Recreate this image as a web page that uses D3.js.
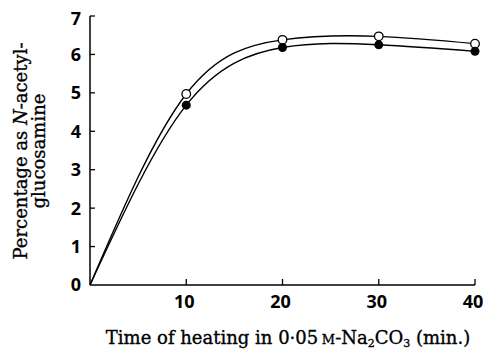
<!DOCTYPE html>
<html>
<head>
<meta charset="utf-8">
<script src="https://cdn.jsdelivr.net/npm/d3@7"></script>
<style>
  body { margin: 0; background: #fff; }
  .tick-label { font-family: "Open Sans", sans-serif; font-weight: 700; font-size: 18px; }
  .title { font-family: "DejaVu Serif", serif; font-size: 18px; stroke: #000; stroke-width: 0.35px; }
</style>
</head>
<body>
<svg id="chart" width="484" height="353"></svg>
<script>
// Width and height of the picture
const w = 484;
const h = 353;

// data
const times = [0, 10, 20, 30, 40];
const openValues = [0, 4.97, 6.38, 6.47, 6.28];
const filledValues = [0, 4.68, 6.18, 6.25, 6.08];
const xTicks = [10, 20, 30, 40];
const yTicks = [0, 1, 2, 3, 4, 5, 6, 7];

const svg = d3.select("#chart");

// scales, origin sits at about (90, 285)
const x = d3.scaleLinear().domain([0, 40]).range([90, 475]);
const y = d3.scaleLinear().domain([0, 7]).range([285, 16]);

// axis lines
svg.append("line")
  .attr("x1", x(0)).attr("x2", x(0))
  .attr("y1", y(0)).attr("y2", y(7))
  .attr("stroke", "#000").attr("stroke-width", 1.5);
svg.append("line")
  .attr("x1", x(0)).attr("x2", x(40))
  .attr("y1", y(0)).attr("y2", y(0))
  .attr("stroke", "#000").attr("stroke-width", 1.5);

// y ticks point inward
svg.selectAll(".ytick")
  .data(yTicks.filter(d => d > 0))
  .enter()
  .append("line")
  .attr("x1", x(0)).attr("x2", x(0) + 5)
  .attr("y1", d => y(d)).attr("y2", d => y(d))
  .attr("stroke", "#000").attr("stroke-width", 1.3);

svg.selectAll(".ylab")
  .data(yTicks)
  .enter()
  .append("text")
  .attr("class", "tick-label")
  .attr("x", 81)
  .attr("y", d => y(d) + (d === 7 ? 3 : 0))
  .attr("dy", "0.36em")
  .attr("text-anchor", "end")
  .text(d => d);

// x ticks point up
svg.selectAll(".xtick")
  .data(xTicks)
  .enter()
  .append("line")
  .attr("x1", d => x(d)).attr("x2", d => x(d))
  .attr("y1", y(0)).attr("y2", y(0) - 6)
  .attr("stroke", "#000").attr("stroke-width", 1.3);

svg.selectAll(".xlab")
  .data(xTicks)
  .enter()
  .append("text")
  .attr("class", "tick-label")
  .attr("x", d => x(d) - 2)
  .attr("y", 308)
  .attr("text-anchor", "middle")
  .text(d => d);

// smooth curves through the points
const line = d3.line()
  .x(d => x(d[0]))
  .y(d => y(d[1]))
  .curve(d3.curveNatural);

const openData = times.map((t, i) => [t, openValues[i]]);
const filledData = times.map((t, i) => [t, filledValues[i]]);

[openData, filledData].forEach(series => {
  svg.append("path")
    .datum(series)
    .attr("d", line)
    .attr("fill", "none")
    .attr("stroke", "#000")
    .attr("stroke-width", 1.4);
});

// markers, skip the origin point
svg.selectAll(".open")
  .data(openData.slice(1))
  .enter()
  .append("circle")
  .attr("cx", d => x(d[0]))
  .attr("cy", d => y(d[1]))
  .attr("r", 4.3)
  .attr("fill", "#fff")
  .attr("stroke", "#000")
  .attr("stroke-width", 1.3);

svg.selectAll(".filled")
  .data(filledData.slice(1))
  .enter()
  .append("circle")
  .attr("cx", d => x(d[0]))
  .attr("cy", d => y(d[1]))
  .attr("r", 4.5)
  .attr("fill", "#000");

// axis titles
const xt = svg.append("text")
  .attr("class", "title")
  .attr("x", 288)
  .attr("y", 344)
  .attr("text-anchor", "middle");
xt.append("tspan").text("Time of heating in 0·05\u2009");
xt.append("tspan").style("font-size", "13px").text("M");
xt.append("tspan").text("-Na");
xt.append("tspan").attr("dy", 3).style("font-size", "11px").text("2");
xt.append("tspan").attr("dy", -3).text("CO");
xt.append("tspan").attr("dy", 3).style("font-size", "11px").text("3");
xt.append("tspan").attr("dy", -3).text(" (min.)");

const yt = svg.append("text")
  .attr("class", "title")
  .attr("transform", "translate(27,151) rotate(-90)")
  .attr("text-anchor", "middle");
yt.append("tspan").attr("x", 0).text("Percentage as ");
yt.append("tspan").style("font-style", "italic").text("N");
yt.append("tspan").text("-acetyl-");
yt.append("tspan").attr("x", 0).attr("dy", 18).text("glucosamine");
</script>
</body>
</html>
